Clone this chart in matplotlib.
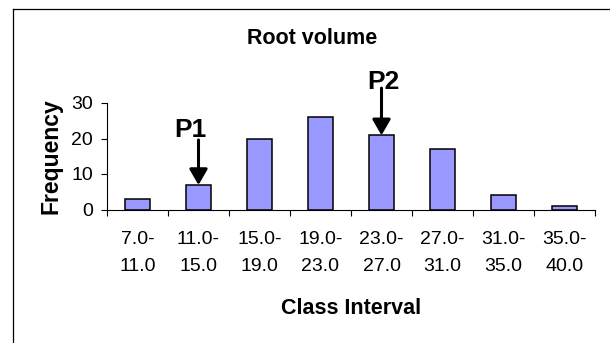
import matplotlib.pyplot as plt
from matplotlib.lines import Line2D

plt.rcParams['font.family'] = ['Liberation Sans', 'DejaVu Sans']
tick_font = ['Liberation Sans Narrow', 'Liberation Sans']

# Root volume class frequencies
classes = ['7.0-\n11.0', '11.0-\n15.0', '15.0-\n19.0', '19.0-\n23.0',
           '23.0-\n27.0', '27.0-\n31.0', '31.0-\n35.0', '35.0-\n40.0']
frequency = [3, 7, 20, 26, 21, 17, 4, 1]
peak_labels = ['P1', 'P2']
peak_index = [1, 4]

W, H = 610, 343
fig = plt.figure(figsize=(W / 100, H / 100), dpi=100)
ax = fig.add_axes([107 / W, 1 - 209.5 / H, 488 / W, 106.5 / H])

x = range(len(classes))
ax.bar(x, frequency, width=0.4, color='#9999FF', edgecolor='black', linewidth=1.1, zorder=2)

ax.set_xlim(-0.5, len(classes) - 0.5)
ax.set_ylim(0, 30)
ax.set_yticks([0, 10, 20, 30])

# boundary ticks on the category axis, labels centred between them
ax.set_xticks([i - 0.5 for i in range(len(classes) + 1)])
ax.set_xticklabels([])
ax.set_xticks(list(x), minor=True)
ax.set_xticklabels(classes, minor=True, fontsize=14, linespacing=1.75, family=tick_font)
ax.tick_params(axis='x', which='major', direction='out', length=4, width=0.8)
ax.tick_params(axis='x', which='minor', length=0, pad=15.5)
ax.tick_params(axis='y', direction='out', length=4, width=0.8, labelsize=14, pad=6)
for t in ax.get_yticklabels():
    t.set_family(tick_font)

for side in ['top', 'right']:
    ax.spines[side].set_visible(False)
for side in ['left', 'bottom']:
    ax.spines[side].set_linewidth(0.8)

ax.set_xlabel('Class Interval', fontsize=15.5, fontweight='bold', va='center')
ax.xaxis.set_label_coords(0.5, (209.5 - 308) / 106.5)
ax.set_ylabel('Frequency', fontsize=16.5, fontweight='bold', va='center')
ax.yaxis.set_label_coords((51 - 107) / 488, 0.5)

fig.text(312 / W, 1 - 38 / H, 'Root volume', fontsize=15.5, fontweight='bold',
         ha='center', va='center')

# peak markers
arrow_len = [12.6, 13.2]
text_offset = [(-0.13, 15.4), (0.03, 14.9)]
for lab, i, ln, (dx, dy) in zip(peak_labels, peak_index, arrow_len, text_offset):
    ax.annotate('', xy=(i, frequency[i] - 0.1), xytext=(i, frequency[i] + ln),
                arrowprops=dict(arrowstyle='-|>,head_length=0.95,head_width=0.55',
                                color='black', lw=2.2, shrinkA=0, shrinkB=0,
                                mutation_scale=10),
                annotation_clip=False)
    ax.text(i + dx, frequency[i] + dy, lab, fontsize=19, fontweight='bold',
            ha='center', va='center', clip_on=False)

# chart border
fig.add_artist(Line2D([13 / W, 13 / W], [0, 1 - 9 / H], color='black', lw=0.9))
fig.add_artist(Line2D([13 / W, 1], [1 - 9 / H, 1 - 9 / H], color='black', lw=0.9))

fig.savefig('out.png', dpi=100)
